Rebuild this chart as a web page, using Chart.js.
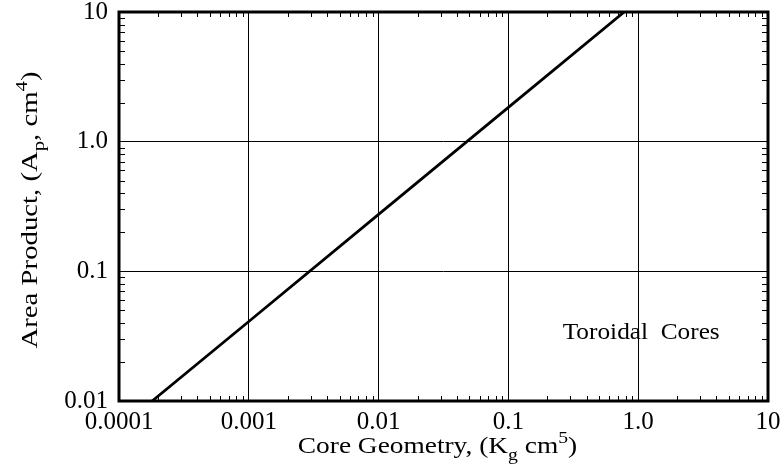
<!DOCTYPE html>
<html>
<head>
<meta charset="utf-8">
<script src="https://cdn.jsdelivr.net/npm/chart.js@4.4.1/dist/chart.umd.min.js"></script>
<style>
  html, body { margin: 0; padding: 0; background: #fff; }
  #wrap { width: 784px; height: 473px; }
</style>
</head>
<body>
<div id="wrap"><canvas id="apChart" width="784" height="473"></canvas></div>
<script>
// Area product vs core geometry, toroidal cores (log-log)
const coreGeometry = [0.00018, 0.001, 0.01, 0.1, 0.78];
const areaProduct = [0.01, 0.041, 0.275, 1.84, 10];

const xTickValues = [0.0001, 0.001, 0.01, 0.1, 1, 10];
const xTickLabels = ['0.0001', '0.001', '0.01', '0.1', '1.0', '10'];
const yTickValues = [0.01, 0.1, 1, 10];
const yTickLabels = ['0.01', '0.1', '1.0', '10'];

const FONT = '"Liberation Serif", "Times New Roman", serif';

// x and y titles have sub/superscripts, so they are drawn by hand
// (the scanned original is a bit wider than tall, hence the sx stretch)
function drawRich(ctx, parts, size, sx) {
    ctx.scale(sx, 1);
    let total = 0;
    parts.forEach(p => {
        ctx.font = (p.sub || p.sup ? size * 0.72 : size) + 'px ' + FONT;
        p.w = ctx.measureText(p.t).width;
        total += p.w;
    });
    let x = -total / 2;
    parts.forEach(p => {
        ctx.font = (p.sub || p.sup ? size * 0.72 : size) + 'px ' + FONT;
        let dy = 0;
        if (p.sub) dy = size * 0.3;
        if (p.sup) dy = -size * 0.42;
        ctx.fillText(p.t, x, dy);
        x += p.w;
    });
}

function minorValues(min, max) {
    const out = [];
    for (let d = min; d < max * 0.99; d *= 10) {
        for (let k = 2; k <= 9; k++) out.push(d * k);
    }
    return out;
}

const framePlugin = {
    id: 'frame',
    afterDraw(chart) {
        const ctx = chart.ctx;
        const a = chart.chartArea;
        const xs = chart.scales.x;
        const ys = chart.scales.y;
        ctx.save();
        ctx.strokeStyle = '#000';

        // minor ticks, pointing inward on all four sides
        ctx.lineWidth = 1;
        ctx.beginPath();
        minorValues(0.0001, 10).forEach(v => {
            const px = Math.round(xs.getPixelForValue(v)) + 0.5;
            ctx.moveTo(px, a.bottom); ctx.lineTo(px, a.bottom - 5);
            ctx.moveTo(px, a.top); ctx.lineTo(px, a.top + 5);
        });
        minorValues(0.01, 10).forEach(v => {
            const py = Math.round(ys.getPixelForValue(v)) + 0.5;
            ctx.moveTo(a.left, py); ctx.lineTo(a.left + 6, py);
            ctx.moveTo(a.right, py); ctx.lineTo(a.right - 6, py);
        });
        ctx.stroke();

        // heavy frame
        ctx.lineWidth = 3;
        ctx.strokeRect(a.left, a.top, a.right - a.left, a.bottom - a.top);

        ctx.fillStyle = '#000';
        ctx.textBaseline = 'alphabetic';

        // x title
        ctx.save();
        ctx.translate((a.left + a.right) / 2 - 6, 453);
        drawRich(ctx, [
            { t: 'Core Geometry, (K' },
            { t: 'g', sub: true },
            { t: ' cm' },
            { t: '5', sup: true },
            { t: ')' }
        ], 23, 1.19);
        ctx.restore();

        // y title
        ctx.save();
        ctx.translate(37, 210);
        ctx.rotate(-Math.PI / 2);
        drawRich(ctx, [
            { t: 'Area Product, (A' },
            { t: 'p', sub: true },
            { t: ', cm' },
            { t: '4', sup: true },
            { t: ')' }
        ], 23, 1.25);
        ctx.restore();

        // annotation
        ctx.save();
        ctx.translate(xs.getPixelForValue(1.0) + 3, ys.getPixelForValue(0.0335));
        ctx.scale(1.1, 1);
        ctx.font = '23px ' + FONT;
        ctx.textAlign = 'center';
        ctx.textBaseline = 'middle';
        ctx.fillText('Toroidal  Cores', 0, 0);
        ctx.restore();
        ctx.restore();
    }
};

const ctx = document.getElementById('apChart').getContext('2d');
new Chart(ctx, {
    type: 'line',
    data: {
        datasets: [{
            data: coreGeometry.map((x, i) => ({ x: x, y: areaProduct[i] })),
            borderColor: '#000',
            borderWidth: 2.8,
            pointRadius: 0,
            tension: 0,
            fill: false
        }]
    },
    options: {
        responsive: false,
        animation: false,
        devicePixelRatio: 1,
        layout: { padding: { top: 12, right: 16, left: 0, bottom: 0 } },
        plugins: {
            legend: { display: false },
            tooltip: { enabled: false }
        },
        scales: {
            x: {
                type: 'logarithmic',
                min: 0.0001,
                max: 10,
                afterBuildTicks: scale => {
                    scale.ticks = xTickValues.map(v => ({ value: v, major: true }));
                },
                afterFit: scale => {
                    scale.height = 72;
                    scale.paddingLeft = 0;
                    scale.paddingRight = 0;
                },
                ticks: {
                    autoSkip: false,
                    maxRotation: 0,
                    padding: 6,
                    color: '#000',
                    font: { family: FONT, size: 25 },
                    callback: (v, i) => xTickLabels[i]
                },
                grid: { color: '#000', lineWidth: 1, drawTicks: false },
                border: { display: false }
            },
            y: {
                type: 'logarithmic',
                min: 0.01,
                max: 10,
                afterBuildTicks: scale => {
                    scale.ticks = yTickValues.map(v => ({ value: v, major: true }));
                },
                afterFit: scale => {
                    scale.width = 119;
                    scale.paddingTop = 0;
                    scale.paddingBottom = 0;
                },
                ticks: {
                    autoSkip: false,
                    padding: 11,
                    color: '#000',
                    font: { family: FONT, size: 25 },
                    callback: (v, i) => yTickLabels[i]
                },
                grid: { color: '#000', lineWidth: 1, drawTicks: false },
                border: { display: false }
            }
        }
    },
    plugins: [framePlugin]
});
</script>
</body>
</html>
